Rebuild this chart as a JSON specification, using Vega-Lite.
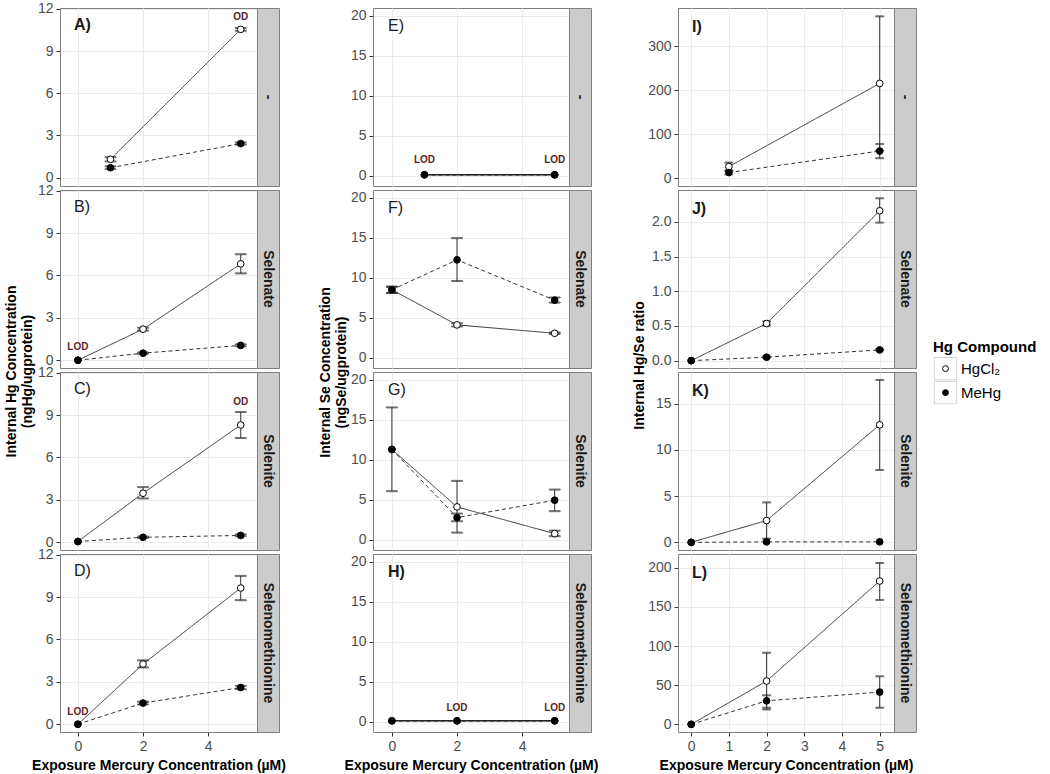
{
"$schema":"https://vega.github.io/schema/vega-lite/v6.json",
"padding":{"left":3,"top":1,"right":0,"bottom":0},
"background":"white",
"datasets":{
"d":[
{"p":"A","c":"HgCl₂","x":1,"v":1.3,"lo":1.15,"hi":1.45},{"p":"A","c":"HgCl₂","x":5,"v":10.55,"lo":10.45,"hi":10.65},{"p":"A","c":"MeHg","x":1,"v":0.7,"lo":0.6,"hi":0.8},{"p":"A","c":"MeHg","x":5,"v":2.42,"lo":2.35,"hi":2.5},
{"p":"B","c":"HgCl₂","x":0,"v":0},{"p":"B","c":"HgCl₂","x":2,"v":2.2,"lo":2.1,"hi":2.3},{"p":"B","c":"HgCl₂","x":5,"v":6.82,"lo":6.15,"hi":7.5},{"p":"B","c":"MeHg","x":0,"v":0},{"p":"B","c":"MeHg","x":2,"v":0.5,"lo":0.45,"hi":0.55},{"p":"B","c":"MeHg","x":5,"v":1.05,"lo":0.98,"hi":1.12},
{"p":"C","c":"HgCl₂","x":0,"v":0.05},{"p":"C","c":"HgCl₂","x":2,"v":3.47,"lo":3.1,"hi":3.9},{"p":"C","c":"HgCl₂","x":5,"v":8.3,"lo":7.38,"hi":9.22},{"p":"C","c":"MeHg","x":0,"v":0.05},{"p":"C","c":"MeHg","x":2,"v":0.35,"lo":0.3,"hi":0.4},{"p":"C","c":"MeHg","x":5,"v":0.48,"lo":0.42,"hi":0.55},
{"p":"D","c":"HgCl₂","x":0,"v":0},{"p":"D","c":"HgCl₂","x":2,"v":4.26,"lo":4.02,"hi":4.52},{"p":"D","c":"HgCl₂","x":5,"v":9.64,"lo":8.78,"hi":10.5},{"p":"D","c":"MeHg","x":0,"v":0},{"p":"D","c":"MeHg","x":2,"v":1.5,"lo":1.4,"hi":1.6},{"p":"D","c":"MeHg","x":5,"v":2.6,"lo":2.48,"hi":2.72},
{"p":"E","c":"HgCl₂","x":1,"v":0.1},{"p":"E","c":"HgCl₂","x":5,"v":0.1},{"p":"E","c":"MeHg","x":1,"v":0.1},{"p":"E","c":"MeHg","x":5,"v":0.1},
{"p":"F","c":"HgCl₂","x":0,"v":8.5,"lo":8.1,"hi":8.9},{"p":"F","c":"HgCl₂","x":2,"v":4.1,"lo":3.9,"hi":4.3},{"p":"F","c":"HgCl₂","x":5,"v":3.05,"lo":2.95,"hi":3.15},{"p":"F","c":"MeHg","x":0,"v":8.5,"lo":8.1,"hi":8.87},{"p":"F","c":"MeHg","x":2,"v":12.25,"lo":9.6,"hi":14.97},{"p":"F","c":"MeHg","x":5,"v":7.2,"lo":6.9,"hi":7.53},
{"p":"G","c":"HgCl₂","x":0,"v":11.3},{"p":"G","c":"HgCl₂","x":2,"v":4.1,"lo":0.88,"hi":7.36},{"p":"G","c":"HgCl₂","x":5,"v":0.75,"lo":0.43,"hi":1.13},{"p":"G","c":"MeHg","x":0,"v":11.3,"lo":6.07,"hi":16.56},{"p":"G","c":"MeHg","x":2,"v":2.76,"lo":2.3,"hi":3.26},{"p":"G","c":"MeHg","x":5,"v":4.94,"lo":3.56,"hi":6.27},
{"p":"H","c":"HgCl₂","x":0,"v":0.1},{"p":"H","c":"HgCl₂","x":2,"v":0.1},{"p":"H","c":"HgCl₂","x":5,"v":0.1},{"p":"H","c":"MeHg","x":0,"v":0.1},{"p":"H","c":"MeHg","x":2,"v":0.1},{"p":"H","c":"MeHg","x":5,"v":0.1},
{"p":"I","c":"HgCl₂","x":1,"v":26.6,"lo":18,"hi":35.7},{"p":"I","c":"HgCl₂","x":5,"v":215.6,"lo":63,"hi":368},{"p":"I","c":"MeHg","x":1,"v":13,"lo":9,"hi":17},{"p":"I","c":"MeHg","x":5,"v":62,"lo":45.6,"hi":78},
{"p":"J","c":"HgCl₂","x":0,"v":0},{"p":"J","c":"HgCl₂","x":2,"v":0.535,"lo":0.505,"hi":0.565},{"p":"J","c":"HgCl₂","x":5,"v":2.16,"lo":1.99,"hi":2.34},{"p":"J","c":"MeHg","x":0,"v":0},{"p":"J","c":"MeHg","x":2,"v":0.05,"lo":0.04,"hi":0.06},{"p":"J","c":"MeHg","x":5,"v":0.155,"lo":0.145,"hi":0.165},
{"p":"K","c":"HgCl₂","x":0,"v":0},{"p":"K","c":"HgCl₂","x":2,"v":2.36,"lo":0.4,"hi":4.32},{"p":"K","c":"HgCl₂","x":5,"v":12.72,"lo":7.83,"hi":17.58},{"p":"K","c":"MeHg","x":0,"v":0},{"p":"K","c":"MeHg","x":2,"v":0.05},{"p":"K","c":"MeHg","x":5,"v":0.05},
{"p":"L","c":"HgCl₂","x":0,"v":0},{"p":"L","c":"HgCl₂","x":2,"v":55.3,"lo":19,"hi":91.4},{"p":"L","c":"HgCl₂","x":5,"v":183,"lo":158.8,"hi":206},{"p":"L","c":"MeHg","x":0,"v":0},{"p":"L","c":"MeHg","x":2,"v":30,"lo":21.2,"hi":37},{"p":"L","c":"MeHg","x":5,"v":41.2,"lo":21.2,"hi":61.3}
],
"ann":[
{"p":"A","k":"lab","t":"A)","x":-0.12,"v":10.85},{"p":"B","k":"lab","t":"B)","x":-0.12,"v":10.85},{"p":"C","k":"lab","t":"C)","x":-0.12,"v":10.85},{"p":"D","k":"lab","t":"D)","x":-0.12,"v":10.85},
{"p":"E","k":"lab","t":"E)","x":-0.12,"v":18.7},{"p":"F","k":"lab","t":"F)","x":-0.12,"v":18.7},{"p":"G","k":"lab","t":"G)","x":-0.12,"v":18.7},{"p":"H","k":"lab","t":"H)","x":-0.12,"v":18.7},
{"p":"I","k":"lab","t":"I)","x":0.02,"v":343.7},{"p":"J","k":"lab","t":"J)","x":0.02,"v":2.185},{"p":"K","k":"lab","t":"K)","x":0.02,"v":16.37},{"p":"L","k":"lab","t":"L)","x":0.02,"v":193.2},
{"p":"A","k":"lod","t":"OD","x":5,"v":11.4},{"p":"B","k":"lod","t":"LOD","x":0,"v":0.95},{"p":"C","k":"lod","t":"OD","x":5,"v":9.95},{"p":"D","k":"lod","t":"LOD","x":0,"v":0.9},
{"p":"E","k":"lod","t":"LOD","x":1,"v":1.9},{"p":"E","k":"lod","t":"LOD","x":5,"v":1.9},{"p":"H","k":"lod","t":"LOD","x":2,"v":1.75},{"p":"H","k":"lod","t":"LOD","x":5,"v":1.75}
],
"leg":[
{"k":"title","t":"Hg Compound","r":0,"lx":17},
{"k":"key","t":"HgCl₂","c":"HgCl₂","r":0.9,"lx":45,"sx":29.5},
{"k":"key","t":"MeHg","c":"MeHg","r":1.9,"lx":45,"sx":29.5}
]
},
"columns":9,
"spacing":{"row":4,"column":0},
"bounds":"flush",
"concat":[
  {"width":197,"height":178,
   "encoding":{"x":{"field":"x","type":"quantitative","scale":{"domain":[-0.55,5.5],"nice":false,"zero":false},"axis":{"values":[0,2,4],"labels":false,"ticks":false,"title":null}},
     "y":{"field":"v","type":"quantitative","scale":{"domain":[-0.6,12.07],"nice":false,"zero":false},"axis":{"values":[0,3,6,9,12],"title":null}}},
   "layer":[
    {"data":{"name":"d"},"transform":[{"filter":"datum.p=='A'"}],"mark":{"type":"line","color":"#333333","strokeWidth":1},"encoding":{"strokeDash":{"field":"c","type":"nominal","scale":{"domain":["HgCl₂","MeHg"],"range":[[1,0],[4,3]]},"legend":null}}},
    {"data":{"name":"d"},"transform":[{"filter":"datum.p=='A' && isValid(datum.lo)"}],"mark":{"type":"errorbar","orient":"vertical","color":"#333333","ticks":{"size":11,"stroke":"#333333"},"rule":{"stroke":"#333333"}},"encoding":{"y":{"field":"lo","type":"quantitative","title":null},"y2":{"field":"hi"}}},
    {"data":{"name":"d"},"transform":[{"filter":"datum.p=='A'"}],"mark":{"type":"point","shape":"circle","filled":true,"stroke":"black","strokeWidth":1,"size":45,"opacity":1},"encoding":{"fill":{"field":"c","type":"nominal","scale":{"domain":["HgCl₂","MeHg"],"range":["white","black"]},"legend":null}}},
    {"data":{"name":"ann"},"transform":[{"filter":"datum.p=='A' && datum.k=='lab'"}],"mark":{"type":"text","align":"left","baseline":"middle","fontSize":16,"fontWeight":"bold","color":"#1a1a1a"},"encoding":{"text":{"field":"t"}}},
    {"data":{"name":"ann"},"transform":[{"filter":"datum.p=='A' && datum.k=='lod'"}],"mark":{"type":"text","align":"center","baseline":"middle","fontSize":10,"fontWeight":"bold","color":"#5e1f28"},"encoding":{"text":{"field":"t"}}}
   ]},
  {"width":22,"height":178,"view":{"fill":"#cccccc","stroke":"#7f7f7f"},"data":{"values":[{"s":"-"}]},"mark":{"type":"text","angle":90,"fontSize":14,"fontWeight":"bold","color":"#1a1a1a"},"encoding":{"text":{"field":"s"}}},
  {"width":94,"height":178,"view":{"stroke":null},"data":{"values":[]},"mark":"point"},
  {"width":196,"height":178,
   "encoding":{"x":{"field":"x","type":"quantitative","scale":{"domain":[-0.58,5.44],"nice":false,"zero":false},"axis":{"values":[0,2,4],"labels":false,"ticks":false,"title":null}},
     "y":{"field":"v","type":"quantitative","scale":{"domain":[-1.3,21],"nice":false,"zero":false},"axis":{"values":[0,5,10,15,20],"title":null}}},
   "layer":[
    {"data":{"name":"d"},"transform":[{"filter":"datum.p=='E'"}],"mark":{"type":"line","color":"#222222","strokeWidth":1.5},"encoding":{"strokeDash":{"field":"c","type":"nominal","scale":{"domain":["HgCl₂","MeHg"],"range":[[1,0],[4,3]]},"legend":null}}},
    {"data":{"name":"d"},"transform":[{"filter":"datum.p=='E'"}],"mark":{"type":"point","shape":"circle","filled":true,"stroke":"black","strokeWidth":1,"size":45,"opacity":1},"encoding":{"fill":{"field":"c","type":"nominal","scale":{"domain":["HgCl₂","MeHg"],"range":["white","black"]},"legend":null}}},
    {"data":{"name":"ann"},"transform":[{"filter":"datum.p=='E' && datum.k=='lab'"}],"mark":{"type":"text","align":"left","baseline":"middle","fontSize":16,"color":"#1a1a1a"},"encoding":{"text":{"field":"t"}}},
    {"data":{"name":"ann"},"transform":[{"filter":"datum.p=='E' && datum.k=='lod'"}],"mark":{"type":"text","align":"center","baseline":"middle","fontSize":10,"fontWeight":"bold","color":"#5e1f28"},"encoding":{"text":{"field":"t"}}}
   ]},
  {"width":22,"height":178,"view":{"fill":"#cccccc","stroke":"#7f7f7f"},"data":{"values":[{"s":"-"}]},"mark":{"type":"text","angle":90,"fontSize":14,"fontWeight":"bold","color":"#1a1a1a"},"encoding":{"text":{"field":"s"}}},
  {"width":87,"height":178,"view":{"stroke":null},"data":{"values":[]},"mark":"point"},
  {"width":216,"height":178,
   "encoding":{"x":{"field":"x","type":"quantitative","scale":{"domain":[-0.35,5.38],"nice":false,"zero":false},"axis":{"values":[0,1,2,3,4,5],"labels":false,"ticks":false,"title":null}},
     "y":{"field":"v","type":"quantitative","scale":{"domain":[-17.5,387],"nice":false,"zero":false},"axis":{"values":[0,100,200,300],"title":null}}},
   "layer":[
    {"data":{"values":[{}]},"mark":{"type":"rule","color":"#d03a3a","strokeDash":[4,3],"strokeWidth":1},"encoding":{"y":{"datum":1},"x":{"datum":-0.35},"x2":{"datum":5.38}}},
    {"data":{"name":"d"},"transform":[{"filter":"datum.p=='I'"}],"mark":{"type":"line","color":"#333333","strokeWidth":1},"encoding":{"strokeDash":{"field":"c","type":"nominal","scale":{"domain":["HgCl₂","MeHg"],"range":[[1,0],[4,3]]},"legend":null}}},
    {"data":{"name":"d"},"transform":[{"filter":"datum.p=='I' && isValid(datum.lo)"}],"mark":{"type":"errorbar","orient":"vertical","color":"#333333","ticks":{"size":8,"stroke":"#333333"},"rule":{"stroke":"#333333"}},"encoding":{"y":{"field":"lo","type":"quantitative","title":null},"y2":{"field":"hi"}}},
    {"data":{"name":"d"},"transform":[{"filter":"datum.p=='I'"}],"mark":{"type":"point","shape":"circle","filled":true,"stroke":"black","strokeWidth":1,"size":45,"opacity":1},"encoding":{"fill":{"field":"c","type":"nominal","scale":{"domain":["HgCl₂","MeHg"],"range":["white","black"]},"legend":null}}},
    {"data":{"name":"ann"},"transform":[{"filter":"datum.p=='I' && datum.k=='lab'"}],"mark":{"type":"text","align":"left","baseline":"middle","fontSize":16,"fontWeight":"bold","color":"#1a1a1a"},"encoding":{"text":{"field":"t"}}}
   ]},
  {"width":22,"height":178,"view":{"fill":"#cccccc","stroke":"#7f7f7f"},"data":{"values":[{"s":"-"}]},"mark":{"type":"text","angle":90,"fontSize":14,"fontWeight":"bold","color":"#1a1a1a"},"encoding":{"text":{"field":"s"}}},
  {"width":125,"height":178,"view":{"stroke":null},"data":{"values":[]},"mark":"point"},

  {"width":197,"height":178,
   "encoding":{"x":{"field":"x","type":"quantitative","scale":{"domain":[-0.55,5.5],"nice":false,"zero":false},"axis":{"values":[0,2,4],"labels":false,"ticks":false,"title":null}},
     "y":{"field":"v","type":"quantitative","scale":{"domain":[-0.55,12.05],"nice":false,"zero":false},"axis":{"values":[0,3,6,9,12],"title":["Internal Hg Concentration","(ngHg/ugprotein)"],"titleY":181,"titlePadding":3}}},
   "layer":[
    {"data":{"name":"d"},"transform":[{"filter":"datum.p=='B'"}],"mark":{"type":"line","color":"#333333","strokeWidth":1},"encoding":{"strokeDash":{"field":"c","type":"nominal","scale":{"domain":["HgCl₂","MeHg"],"range":[[1,0],[4,3]]},"legend":null}}},
    {"data":{"name":"d"},"transform":[{"filter":"datum.p=='B' && isValid(datum.lo)"}],"mark":{"type":"errorbar","orient":"vertical","color":"#333333","ticks":{"size":11,"stroke":"#333333"},"rule":{"stroke":"#333333"}},"encoding":{"y":{"field":"lo","type":"quantitative","title":null},"y2":{"field":"hi"}}},
    {"data":{"name":"d"},"transform":[{"filter":"datum.p=='B'"}],"mark":{"type":"point","shape":"circle","filled":true,"stroke":"black","strokeWidth":1,"size":45,"opacity":1},"encoding":{"fill":{"field":"c","type":"nominal","scale":{"domain":["HgCl₂","MeHg"],"range":["white","black"]},"legend":null}}},
    {"data":{"name":"ann"},"transform":[{"filter":"datum.p=='B' && datum.k=='lab'"}],"mark":{"type":"text","align":"left","baseline":"middle","fontSize":16,"color":"#1a1a1a"},"encoding":{"text":{"field":"t"}}},
    {"data":{"name":"ann"},"transform":[{"filter":"datum.p=='B' && datum.k=='lod'"}],"mark":{"type":"text","align":"center","baseline":"middle","fontSize":10,"fontWeight":"bold","color":"#5e1f28"},"encoding":{"text":{"field":"t"}}}
   ]},
  {"width":22,"height":178,"view":{"fill":"#cccccc","stroke":"#7f7f7f"},"data":{"values":[{"s":"Selenate"}]},"mark":{"type":"text","angle":90,"fontSize":14,"fontWeight":"bold","color":"#1a1a1a"},"encoding":{"text":{"field":"s"}}},
  {"width":94,"height":178,"view":{"stroke":null},"data":{"values":[]},"mark":"point"},
  {"width":196,"height":178,
   "encoding":{"x":{"field":"x","type":"quantitative","scale":{"domain":[-0.58,5.44],"nice":false,"zero":false},"axis":{"values":[0,2,4],"labels":false,"ticks":false,"title":null}},
     "y":{"field":"v","type":"quantitative","scale":{"domain":[-1.3,21],"nice":false,"zero":false},"axis":{"values":[0,5,10,15,20],"title":["Internal Se Concentration","(ngSe/ugprotein)"],"titleY":182,"titlePadding":2}}},
   "layer":[
    {"data":{"name":"d"},"transform":[{"filter":"datum.p=='F'"}],"mark":{"type":"line","color":"#333333","strokeWidth":1},"encoding":{"strokeDash":{"field":"c","type":"nominal","scale":{"domain":["HgCl₂","MeHg"],"range":[[1,0],[4,3]]},"legend":null}}},
    {"data":{"name":"d"},"transform":[{"filter":"datum.p=='F' && isValid(datum.lo)"}],"mark":{"type":"errorbar","orient":"vertical","color":"#333333","ticks":{"size":11,"stroke":"#333333"},"rule":{"stroke":"#333333"}},"encoding":{"y":{"field":"lo","type":"quantitative","title":null},"y2":{"field":"hi"}}},
    {"data":{"name":"d"},"transform":[{"filter":"datum.p=='F'"}],"mark":{"type":"point","shape":"circle","filled":true,"stroke":"black","strokeWidth":1,"size":45,"opacity":1},"encoding":{"fill":{"field":"c","type":"nominal","scale":{"domain":["HgCl₂","MeHg"],"range":["white","black"]},"legend":null}}},
    {"data":{"name":"ann"},"transform":[{"filter":"datum.p=='F' && datum.k=='lab'"}],"mark":{"type":"text","align":"left","baseline":"middle","fontSize":16,"color":"#1a1a1a"},"encoding":{"text":{"field":"t"}}}
   ]},
  {"width":22,"height":178,"view":{"fill":"#cccccc","stroke":"#7f7f7f"},"data":{"values":[{"s":"Selenate"}]},"mark":{"type":"text","angle":90,"fontSize":14,"fontWeight":"bold","color":"#1a1a1a"},"encoding":{"text":{"field":"s"}}},
  {"width":87,"height":178,"view":{"stroke":null},"data":{"values":[]},"mark":"point"},
  {"width":216,"height":178,
   "encoding":{"x":{"field":"x","type":"quantitative","scale":{"domain":[-0.35,5.38],"nice":false,"zero":false},"axis":{"values":[0,1,2,3,4,5],"labels":false,"ticks":false,"title":null}},
     "y":{"field":"v","type":"quantitative","scale":{"domain":[-0.106,2.46],"nice":false,"zero":false},"axis":{"values":[0,0.5,1,1.5,2],"format":".1f","title":"Internal Hg/Se ratio","titleY":175,"titlePadding":5}}},
   "layer":[
    {"data":{"values":[{}]},"mark":{"type":"rule","color":"#d03a3a","strokeDash":[4,3],"strokeWidth":1},"encoding":{"y":{"datum":1},"x":{"datum":-0.35},"x2":{"datum":5.38}}},
    {"data":{"name":"d"},"transform":[{"filter":"datum.p=='J'"}],"mark":{"type":"line","color":"#333333","strokeWidth":1},"encoding":{"strokeDash":{"field":"c","type":"nominal","scale":{"domain":["HgCl₂","MeHg"],"range":[[1,0],[4,3]]},"legend":null}}},
    {"data":{"name":"d"},"transform":[{"filter":"datum.p=='J' && isValid(datum.lo)"}],"mark":{"type":"errorbar","orient":"vertical","color":"#333333","ticks":{"size":8,"stroke":"#333333"},"rule":{"stroke":"#333333"}},"encoding":{"y":{"field":"lo","type":"quantitative","title":null},"y2":{"field":"hi"}}},
    {"data":{"name":"d"},"transform":[{"filter":"datum.p=='J'"}],"mark":{"type":"point","shape":"circle","filled":true,"stroke":"black","strokeWidth":1,"size":45,"opacity":1},"encoding":{"fill":{"field":"c","type":"nominal","scale":{"domain":["HgCl₂","MeHg"],"range":["white","black"]},"legend":null}}},
    {"data":{"name":"ann"},"transform":[{"filter":"datum.p=='J' && datum.k=='lab'"}],"mark":{"type":"text","align":"left","baseline":"middle","fontSize":16,"fontWeight":"bold","color":"#1a1a1a"},"encoding":{"text":{"field":"t"}}}
   ]},
  {"width":22,"height":178,"view":{"fill":"#cccccc","stroke":"#7f7f7f"},"data":{"values":[{"s":"Selenate"}]},"mark":{"type":"text","angle":90,"fontSize":14,"fontWeight":"bold","color":"#1a1a1a"},"encoding":{"text":{"field":"s"}}},
  {"width":125,"height":178,"view":{"stroke":null},"data":{"name":"leg"},
   "encoding":{"y":{"field":"r","type":"quantitative","scale":{"domain":[-6.542,0.875],"reverse":true,"nice":false,"zero":false},"axis":null},
     "x":{"field":"lx","type":"quantitative","scale":{"domain":[0,125],"nice":false,"zero":false},"axis":null}},
   "layer":[
    {"transform":[{"filter":"datum.k=='title'"}],"mark":{"type":"text","align":"left","baseline":"middle","fontSize":15,"fontWeight":"bold","color":"#000000"},"encoding":{"text":{"field":"t"}}},
    {"transform":[{"filter":"datum.k=='key'"}],"mark":{"type":"point","shape":"square","size":500,"filled":true,"fill":"white","stroke":"#d4d4d4","strokeWidth":1,"opacity":1},"encoding":{"x":{"field":"sx","type":"quantitative"}}},
    {"transform":[{"filter":"datum.k=='key'"}],"mark":{"type":"point","shape":"circle","size":35,"filled":true,"stroke":"black","strokeWidth":1,"opacity":1},"encoding":{"x":{"field":"sx","type":"quantitative"},"fill":{"field":"c","type":"nominal","scale":{"domain":["HgCl₂","MeHg"],"range":["white","black"]},"legend":null}}},
    {"transform":[{"filter":"datum.k=='key'"}],"mark":{"type":"text","align":"left","baseline":"middle","fontSize":15,"color":"#000000"},"encoding":{"text":{"field":"t"}}}
   ]},

  {"width":197,"height":178,
   "encoding":{"x":{"field":"x","type":"quantitative","scale":{"domain":[-0.55,5.5],"nice":false,"zero":false},"axis":{"values":[0,2,4],"labels":false,"ticks":false,"title":null}},
     "y":{"field":"v","type":"quantitative","scale":{"domain":[-0.55,12.05],"nice":false,"zero":false},"axis":{"values":[0,3,6,9,12],"title":null}}},
   "layer":[
    {"data":{"name":"d"},"transform":[{"filter":"datum.p=='C'"}],"mark":{"type":"line","color":"#333333","strokeWidth":1},"encoding":{"strokeDash":{"field":"c","type":"nominal","scale":{"domain":["HgCl₂","MeHg"],"range":[[1,0],[4,3]]},"legend":null}}},
    {"data":{"name":"d"},"transform":[{"filter":"datum.p=='C' && isValid(datum.lo)"}],"mark":{"type":"errorbar","orient":"vertical","color":"#333333","ticks":{"size":11,"stroke":"#333333"},"rule":{"stroke":"#333333"}},"encoding":{"y":{"field":"lo","type":"quantitative","title":null},"y2":{"field":"hi"}}},
    {"data":{"name":"d"},"transform":[{"filter":"datum.p=='C'"}],"mark":{"type":"point","shape":"circle","filled":true,"stroke":"black","strokeWidth":1,"size":45,"opacity":1},"encoding":{"fill":{"field":"c","type":"nominal","scale":{"domain":["HgCl₂","MeHg"],"range":["white","black"]},"legend":null}}},
    {"data":{"name":"ann"},"transform":[{"filter":"datum.p=='C' && datum.k=='lab'"}],"mark":{"type":"text","align":"left","baseline":"middle","fontSize":16,"color":"#1a1a1a"},"encoding":{"text":{"field":"t"}}},
    {"data":{"name":"ann"},"transform":[{"filter":"datum.p=='C' && datum.k=='lod'"}],"mark":{"type":"text","align":"center","baseline":"middle","fontSize":10,"fontWeight":"bold","color":"#5e1f28"},"encoding":{"text":{"field":"t"}}}
   ]},
  {"width":22,"height":178,"view":{"fill":"#cccccc","stroke":"#7f7f7f"},"data":{"values":[{"s":"Selenite"}]},"mark":{"type":"text","angle":90,"fontSize":14,"fontWeight":"bold","color":"#1a1a1a"},"encoding":{"text":{"field":"s"}}},
  {"width":94,"height":178,"view":{"stroke":null},"data":{"values":[]},"mark":"point"},
  {"width":196,"height":178,
   "encoding":{"x":{"field":"x","type":"quantitative","scale":{"domain":[-0.58,5.44],"nice":false,"zero":false},"axis":{"values":[0,2,4],"labels":false,"ticks":false,"title":null}},
     "y":{"field":"v","type":"quantitative","scale":{"domain":[-1.3,21],"nice":false,"zero":false},"axis":{"values":[0,5,10,15,20],"title":null}}},
   "layer":[
    {"data":{"name":"d"},"transform":[{"filter":"datum.p=='G'"}],"mark":{"type":"line","color":"#333333","strokeWidth":1},"encoding":{"strokeDash":{"field":"c","type":"nominal","scale":{"domain":["HgCl₂","MeHg"],"range":[[1,0],[4,3]]},"legend":null}}},
    {"data":{"name":"d"},"transform":[{"filter":"datum.p=='G' && isValid(datum.lo)"}],"mark":{"type":"errorbar","orient":"vertical","color":"#333333","ticks":{"size":11,"stroke":"#333333"},"rule":{"stroke":"#333333"}},"encoding":{"y":{"field":"lo","type":"quantitative","title":null},"y2":{"field":"hi"}}},
    {"data":{"name":"d"},"transform":[{"filter":"datum.p=='G'"}],"mark":{"type":"point","shape":"circle","filled":true,"stroke":"black","strokeWidth":1,"size":45,"opacity":1},"encoding":{"fill":{"field":"c","type":"nominal","scale":{"domain":["HgCl₂","MeHg"],"range":["white","black"]},"legend":null}}},
    {"data":{"name":"ann"},"transform":[{"filter":"datum.p=='G' && datum.k=='lab'"}],"mark":{"type":"text","align":"left","baseline":"middle","fontSize":16,"color":"#1a1a1a"},"encoding":{"text":{"field":"t"}}}
   ]},
  {"width":22,"height":178,"view":{"fill":"#cccccc","stroke":"#7f7f7f"},"data":{"values":[{"s":"Selenite"}]},"mark":{"type":"text","angle":90,"fontSize":14,"fontWeight":"bold","color":"#1a1a1a"},"encoding":{"text":{"field":"s"}}},
  {"width":87,"height":178,"view":{"stroke":null},"data":{"values":[]},"mark":"point"},
  {"width":216,"height":178,
   "encoding":{"x":{"field":"x","type":"quantitative","scale":{"domain":[-0.35,5.38],"nice":false,"zero":false},"axis":{"values":[0,1,2,3,4,5],"labels":false,"ticks":false,"title":null}},
     "y":{"field":"v","type":"quantitative","scale":{"domain":[-0.83,18.44],"nice":false,"zero":false},"axis":{"values":[0,5,10,15],"title":null}}},
   "layer":[
    {"data":{"values":[{}]},"mark":{"type":"rule","color":"#d03a3a","strokeDash":[4,3],"strokeWidth":1},"encoding":{"y":{"datum":1},"x":{"datum":-0.35},"x2":{"datum":5.38}}},
    {"data":{"name":"d"},"transform":[{"filter":"datum.p=='K'"}],"mark":{"type":"line","color":"#333333","strokeWidth":1},"encoding":{"strokeDash":{"field":"c","type":"nominal","scale":{"domain":["HgCl₂","MeHg"],"range":[[1,0],[4,3]]},"legend":null}}},
    {"data":{"name":"d"},"transform":[{"filter":"datum.p=='K' && isValid(datum.lo)"}],"mark":{"type":"errorbar","orient":"vertical","color":"#333333","ticks":{"size":8,"stroke":"#333333"},"rule":{"stroke":"#333333"}},"encoding":{"y":{"field":"lo","type":"quantitative","title":null},"y2":{"field":"hi"}}},
    {"data":{"name":"d"},"transform":[{"filter":"datum.p=='K'"}],"mark":{"type":"point","shape":"circle","filled":true,"stroke":"black","strokeWidth":1,"size":45,"opacity":1},"encoding":{"fill":{"field":"c","type":"nominal","scale":{"domain":["HgCl₂","MeHg"],"range":["white","black"]},"legend":null}}},
    {"data":{"name":"ann"},"transform":[{"filter":"datum.p=='K' && datum.k=='lab'"}],"mark":{"type":"text","align":"left","baseline":"middle","fontSize":16,"fontWeight":"bold","color":"#1a1a1a"},"encoding":{"text":{"field":"t"}}}
   ]},
  {"width":22,"height":178,"view":{"fill":"#cccccc","stroke":"#7f7f7f"},"data":{"values":[{"s":"Selenite"}]},"mark":{"type":"text","angle":90,"fontSize":14,"fontWeight":"bold","color":"#1a1a1a"},"encoding":{"text":{"field":"s"}}},
  {"width":125,"height":178,"view":{"stroke":null},"data":{"values":[]},"mark":"point"},

  {"width":197,"height":178,
   "encoding":{"x":{"field":"x","type":"quantitative","scale":{"domain":[-0.55,5.5],"nice":false,"zero":false},"axis":{"values":[0,2,4],"title":"Exposure Mercury Concentration (µM)","titlePadding":5}},
     "y":{"field":"v","type":"quantitative","scale":{"domain":[-0.55,12.05],"nice":false,"zero":false},"axis":{"values":[0,3,6,9,12],"title":null}}},
   "layer":[
    {"data":{"name":"d"},"transform":[{"filter":"datum.p=='D'"}],"mark":{"type":"line","color":"#333333","strokeWidth":1},"encoding":{"strokeDash":{"field":"c","type":"nominal","scale":{"domain":["HgCl₂","MeHg"],"range":[[1,0],[4,3]]},"legend":null}}},
    {"data":{"name":"d"},"transform":[{"filter":"datum.p=='D' && isValid(datum.lo)"}],"mark":{"type":"errorbar","orient":"vertical","color":"#333333","ticks":{"size":11,"stroke":"#333333"},"rule":{"stroke":"#333333"}},"encoding":{"y":{"field":"lo","type":"quantitative","title":null},"y2":{"field":"hi"}}},
    {"data":{"name":"d"},"transform":[{"filter":"datum.p=='D'"}],"mark":{"type":"point","shape":"circle","filled":true,"stroke":"black","strokeWidth":1,"size":45,"opacity":1},"encoding":{"fill":{"field":"c","type":"nominal","scale":{"domain":["HgCl₂","MeHg"],"range":["white","black"]},"legend":null}}},
    {"data":{"name":"ann"},"transform":[{"filter":"datum.p=='D' && datum.k=='lab'"}],"mark":{"type":"text","align":"left","baseline":"middle","fontSize":16,"color":"#1a1a1a"},"encoding":{"text":{"field":"t"}}},
    {"data":{"name":"ann"},"transform":[{"filter":"datum.p=='D' && datum.k=='lod'"}],"mark":{"type":"text","align":"center","baseline":"middle","fontSize":10,"fontWeight":"bold","color":"#5e1f28"},"encoding":{"text":{"field":"t"}}}
   ]},
  {"width":22,"height":178,"view":{"fill":"#cccccc","stroke":"#7f7f7f"},"data":{"values":[{"s":"Selenomethionine"}]},"mark":{"type":"text","angle":90,"fontSize":14,"fontWeight":"bold","color":"#1a1a1a"},"encoding":{"text":{"field":"s"}}},
  {"width":94,"height":178,"view":{"stroke":null},"data":{"values":[]},"mark":"point"},
  {"width":196,"height":178,
   "encoding":{"x":{"field":"x","type":"quantitative","scale":{"domain":[-0.58,5.44],"nice":false,"zero":false},"axis":{"values":[0,2,4],"title":"Exposure Mercury Concentration (µM)","titlePadding":5}},
     "y":{"field":"v","type":"quantitative","scale":{"domain":[-1.3,21],"nice":false,"zero":false},"axis":{"values":[0,5,10,15,20],"title":null}}},
   "layer":[
    {"data":{"name":"d"},"transform":[{"filter":"datum.p=='H'"}],"mark":{"type":"line","color":"#222222","strokeWidth":1.5},"encoding":{"strokeDash":{"field":"c","type":"nominal","scale":{"domain":["HgCl₂","MeHg"],"range":[[1,0],[4,3]]},"legend":null}}},
    {"data":{"name":"d"},"transform":[{"filter":"datum.p=='H'"}],"mark":{"type":"point","shape":"circle","filled":true,"stroke":"black","strokeWidth":1,"size":45,"opacity":1},"encoding":{"fill":{"field":"c","type":"nominal","scale":{"domain":["HgCl₂","MeHg"],"range":["white","black"]},"legend":null}}},
    {"data":{"name":"ann"},"transform":[{"filter":"datum.p=='H' && datum.k=='lab'"}],"mark":{"type":"text","align":"left","baseline":"middle","fontSize":16,"fontWeight":"bold","color":"#1a1a1a"},"encoding":{"text":{"field":"t"}}},
    {"data":{"name":"ann"},"transform":[{"filter":"datum.p=='H' && datum.k=='lod'"}],"mark":{"type":"text","align":"center","baseline":"middle","fontSize":10,"fontWeight":"bold","color":"#5e1f28"},"encoding":{"text":{"field":"t"}}}
   ]},
  {"width":22,"height":178,"view":{"fill":"#cccccc","stroke":"#7f7f7f"},"data":{"values":[{"s":"Selenomethionine"}]},"mark":{"type":"text","angle":90,"fontSize":14,"fontWeight":"bold","color":"#1a1a1a"},"encoding":{"text":{"field":"s"}}},
  {"width":87,"height":178,"view":{"stroke":null},"data":{"values":[]},"mark":"point"},
  {"width":216,"height":178,
   "encoding":{"x":{"field":"x","type":"quantitative","scale":{"domain":[-0.35,5.38],"nice":false,"zero":false},"axis":{"values":[0,1,2,3,4,5],"title":"Exposure Mercury Concentration (µM)","titlePadding":5}},
     "y":{"field":"v","type":"quantitative","scale":{"domain":[-9.8,217.5],"nice":false,"zero":false},"axis":{"values":[0,50,100,150,200],"title":null}}},
   "layer":[
    {"data":{"values":[{}]},"mark":{"type":"rule","color":"#d03a3a","strokeDash":[4,3],"strokeWidth":1},"encoding":{"y":{"datum":1},"x":{"datum":-0.35},"x2":{"datum":5.38}}},
    {"data":{"name":"d"},"transform":[{"filter":"datum.p=='L'"}],"mark":{"type":"line","color":"#333333","strokeWidth":1},"encoding":{"strokeDash":{"field":"c","type":"nominal","scale":{"domain":["HgCl₂","MeHg"],"range":[[1,0],[4,3]]},"legend":null}}},
    {"data":{"name":"d"},"transform":[{"filter":"datum.p=='L' && isValid(datum.lo)"}],"mark":{"type":"errorbar","orient":"vertical","color":"#333333","ticks":{"size":8,"stroke":"#333333"},"rule":{"stroke":"#333333"}},"encoding":{"y":{"field":"lo","type":"quantitative","title":null},"y2":{"field":"hi"}}},
    {"data":{"name":"d"},"transform":[{"filter":"datum.p=='L'"}],"mark":{"type":"point","shape":"circle","filled":true,"stroke":"black","strokeWidth":1,"size":45,"opacity":1},"encoding":{"fill":{"field":"c","type":"nominal","scale":{"domain":["HgCl₂","MeHg"],"range":["white","black"]},"legend":null}}},
    {"data":{"name":"ann"},"transform":[{"filter":"datum.p=='L' && datum.k=='lab'"}],"mark":{"type":"text","align":"left","baseline":"middle","fontSize":16,"fontWeight":"bold","color":"#1a1a1a"},"encoding":{"text":{"field":"t"}}}
   ]},
  {"width":22,"height":178,"view":{"fill":"#cccccc","stroke":"#7f7f7f"},"data":{"values":[{"s":"Selenomethionine"}]},"mark":{"type":"text","angle":90,"fontSize":14,"fontWeight":"bold","color":"#1a1a1a"},"encoding":{"text":{"field":"s"}}},
  {"width":125,"height":178,"view":{"stroke":null},"data":{"values":[]},"mark":"point"}
],
"config":{
 "font":"Liberation Sans",
 "view":{"stroke":"#7f7f7f","strokeWidth":1},
 "axis":{"domain":false,"grid":true,"gridColor":"#ebebeb","gridWidth":1,"tickColor":"#333333","tickSize":4,"labelPadding":3,"labelColor":"#4d4d4d","labelFontSize":14,"labelFont":"Liberation Sans","titleFont":"Liberation Sans","titleFontSize":14,"titleFontWeight":"bold","titleColor":"#000000","titlePadding":3}
}
}
